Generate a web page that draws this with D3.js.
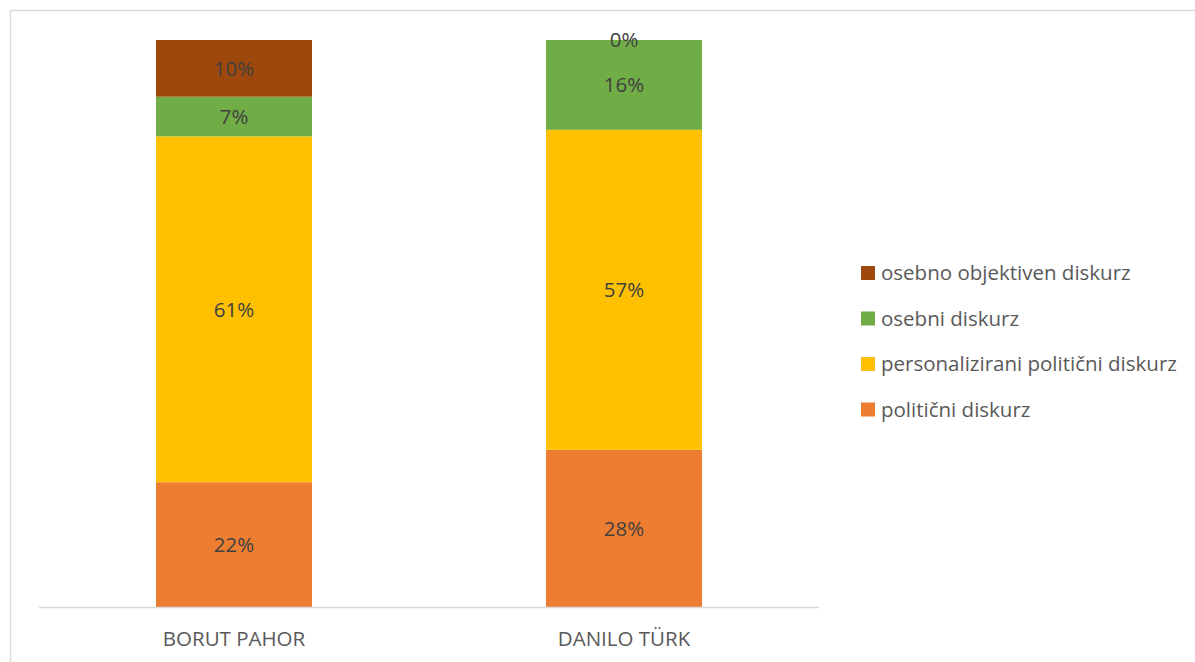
<!DOCTYPE html>
<html>
<head>
<meta charset="utf-8">
<script src="https://cdn.jsdelivr.net/npm/d3@7"></script>
<style>
  html, body { margin: 0; padding: 0; background: #fff; }
  svg { display: block; }
  text { font-family: "Open Sans", "Noto Sans", sans-serif; }
</style>
</head>
<body>
<svg id="chart" width="1195" height="662"></svg>
<script>
// Candidates on the x axis
const candidates = ["BORUT PAHOR", "DANILO TÜRK"];

// Discourse types, bottom of the stack first
const seriesNames = [
  "politični diskurz",
  "personalizirani politični diskurz",
  "osebni diskurz",
  "osebno objektiven diskurz"
];

// Share (%) of each discourse type per candidate
const politicni       = [22, 28];
const personalizirani = [61, 57];
const osebni          = [7, 16];
const objektiven      = [10, 0];

const seriesColors = ["#ED7D31", "#FFC000", "#70AD47", "#9E480E"];

const rows = candidates.map((c, i) => ({
  candidate: c,
  "politični diskurz": politicni[i],
  "personalizirani politični diskurz": personalizirani[i],
  "osebni diskurz": osebni[i],
  "osebno objektiven diskurz": objektiven[i]
}));

const FONT = 20.5;
const svg = d3.select("#chart");

// outer chart frame
svg.append("rect")
  .attr("x", 10.5).attr("y", 10.5)
  .attr("width", 1210).attr("height", 700)
  .attr("fill", "none")
  .attr("stroke", "#D9D9D9")
  .attr("stroke-width", 1.5);

const plot = { left: 39, right: 819, top: 40, bottom: 607 };

const x = d3.scaleBand()
  .domain(candidates)
  .range([plot.left, plot.right])
  .paddingInner(0.6)
  .paddingOuter(0.3);

const y = d3.scaleLinear()
  .domain([0, 1])
  .range([plot.bottom, plot.top]);

const color = d3.scaleOrdinal().domain(seriesNames).range(seriesColors);

// 100% stacked columns
const stacked = d3.stack()
  .keys(seriesNames)
  .offset(d3.stackOffsetExpand)(rows);

const layers = svg.append("g").selectAll("g")
  .data(stacked)
  .join("g")
  .attr("fill", d => color(d.key));

layers.selectAll("rect")
  .data(d => d)
  .join("rect")
  .attr("x", d => x(d.data.candidate))
  .attr("width", x.bandwidth())
  .attr("y", d => y(d[1]))
  .attr("height", d => Math.max(0, y(d[0]) - y(d[1])));

// value labels centred in each segment
const labels = svg.append("g");
stacked.forEach(layer => {
  layer.forEach(d => {
    const v = d.data[layer.key];
    labels.append("text")
      .attr("x", x(d.data.candidate) + x.bandwidth() / 2)
      .attr("y", (y(d[0]) + y(d[1])) / 2)
      .attr("dy", "0.35em")
      .attr("text-anchor", "middle")
      .attr("fill", "#404040")
      .attr("font-size", FONT)
      .text(v + "%");
  });
});

// category axis
const xAxis = svg.append("g")
  .attr("transform", `translate(0,${plot.bottom})`)
  .call(d3.axisBottom(x).tickSize(0).tickPadding(0).tickSizeOuter(0));
xAxis.select(".domain")
  .attr("stroke", "#D9D9D9")
  .attr("stroke-width", 1.5)
  .attr("d", `M${plot.left},0.5H${plot.right}`);
xAxis.selectAll(".tick text")
  .attr("y", 32)
  .attr("dy", "0.35em")
  .attr("fill", "#595959")
  .attr("font-size", FONT)
  .attr("font-family", "\"Open Sans\", \"Noto Sans\", sans-serif");

// legend, top entry is the top of the stack
const legendOrder = seriesNames.slice().reverse();
const legend = svg.append("g")
  .selectAll("g")
  .data(legendOrder)
  .join("g")
  .attr("transform", (d, i) => `translate(861,${273 + i * 45.5})`);

legend.append("rect")
  .attr("x", 0).attr("y", -7)
  .attr("width", 14).attr("height", 14)
  .attr("fill", d => color(d));

legend.append("text")
  .attr("x", 20)
  .attr("y", 0)
  .attr("dy", "0.35em")
  .attr("fill", "#595959")
  .attr("font-size", FONT)
  .text(d => d);
</script>
</body>
</html>
